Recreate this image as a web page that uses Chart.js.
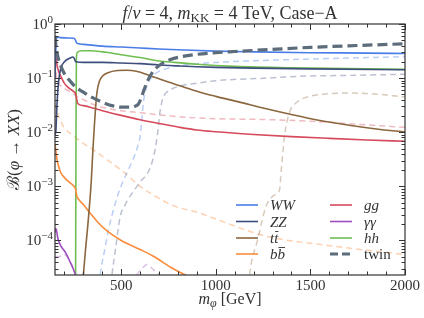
<!DOCTYPE html>
<html>
<head>
<meta charset="utf-8">
<script src="https://cdn.jsdelivr.net/npm/chart.js@4.4.1/dist/chart.umd.min.js"></script>
<style>
  html, body { margin: 0; padding: 0; background: #fff; }
</style>
</head>
<body>
<canvas id="brChart" width="424" height="318"></canvas>
<script>
// ---- data (m_phi in GeV, branching ratio) ----
const wwMass = [150, 154, 158, 165, 180, 220, 250, 256, 264, 275, 300, 400, 500, 600, 700, 800, 1000, 1200, 1500, 1800, 2000];
const wwBr   = [0.1, 0.3, 0.55, 0.57, 0.56, 0.55, 0.545, 0.52, 0.45, 0.43, 0.42, 0.39, 0.375, 0.36, 0.345, 0.335, 0.315, 0.305, 0.295, 0.29, 0.285];

const zzMass = [150, 155, 160, 168, 180, 200, 230, 245, 252, 260, 300, 400, 500, 600, 700, 800, 900, 1000, 1200, 1500, 2000];
const zzBr   = [0.009, 0.011, 0.03, 0.08, 0.15, 0.2, 0.235, 0.245, 0.23, 0.2, 0.195, 0.195, 0.19, 0.185, 0.175, 0.168, 0.162, 0.158, 0.153, 0.148, 0.143];

const ttMass = [292, 300, 310, 325, 342, 350, 358, 365, 372, 385, 400, 430, 480, 530, 580, 650, 730, 810, 916, 1000, 1126, 1250, 1405, 1550, 1705, 1850, 2000];
const ttBr   = [1e-5, 2.3e-5, 6e-5, 2.2e-4, 1.3e-3, 4.5e-3, 0.013, 0.03, 0.055, 0.088, 0.108, 0.126, 0.138, 0.14, 0.134, 0.112, 0.089, 0.072, 0.055, 0.046, 0.036, 0.028, 0.021, 0.0165, 0.0135, 0.0115, 0.0101];

const bbMass = [150, 155, 160, 170, 180, 200, 225, 250, 258, 266, 280, 300, 330, 380, 425, 500, 600, 670, 775, 850, 900];
const bbBr   = [6e-3, 4.5e-3, 3.2e-3, 2.3e-3, 1.8e-3, 1.45e-3, 1.2e-3, 1e-3, 9e-4, 6.5e-4, 5.5e-4, 4.6e-4, 3.4e-4, 2.1e-4, 1.5e-4, 1.0e-4, 6.8e-5, 5.1e-5, 3e-5, 2.2e-5, 1.8e-5];

const ggMass = [150, 155, 160, 170, 180, 195, 210, 230, 250, 258, 264, 270, 300, 350, 400, 500, 600, 700, 800, 900, 1000, 1200, 1400, 1600, 1800, 2000];
const ggBr   = [0.35, 0.25, 0.18, 0.13, 0.11, 0.085, 0.072, 0.063, 0.056, 0.052, 0.042, 0.034, 0.031, 0.028, 0.025, 0.0205, 0.017, 0.0145, 0.0125, 0.011, 0.0102, 0.0091, 0.0083, 0.0077, 0.0072, 0.0068];

const aaMass = [150, 153, 157, 165, 180, 205, 230, 258, 270];
const aaBr   = [1.4e-4, 1.65e-4, 1.6e-4, 1.1e-4, 8e-5, 6e-5, 4e-5, 2.3e-5, 1.5e-5];

const hhMass = [258, 261, 263, 268, 290, 330, 420, 500, 600, 690, 780, 900, 1100, 1400, 2000];
const hhBr   = [1e-6, 0.01, 0.22, 0.3, 0.32, 0.32, 0.3, 0.27, 0.24, 0.21, 0.195, 0.18, 0.165, 0.155, 0.145];

const twinMass = [150, 155, 165, 180, 200, 230, 260, 300, 340, 400, 450, 500, 540, 570, 590, 605, 620, 640, 660, 690, 720, 760, 820, 900, 1000, 1100, 1300, 1500, 1700, 2000];
const twinBr   = [0.6, 0.4, 0.25, 0.17, 0.12, 0.088, 0.068, 0.055, 0.045, 0.036, 0.031, 0.029, 0.029, 0.03, 0.033, 0.042, 0.06, 0.09, 0.12, 0.16, 0.19, 0.22, 0.25, 0.275, 0.295, 0.31, 0.34, 0.37, 0.395, 0.43];

// twin-sector channels (faint dashed)
const wwTwinMass = [380, 389, 410, 433, 460, 486, 530, 560, 583, 600, 609, 617, 635, 668, 740, 863, 1000, 1126, 1300, 1500, 1750, 2000];
const wwTwinBr   = [1e-5, 2.3e-5, 6e-5, 1.6e-4, 3.8e-4, 7.6e-4, 1.8e-3, 3e-3, 4.9e-3, 8.5e-3, 0.017, 0.035, 0.07, 0.11, 0.15, 0.18, 0.195, 0.205, 0.215, 0.225, 0.237, 0.25];

const zzTwinMass = [440, 451, 470, 495, 520, 547, 600, 653, 680, 693, 706, 720, 741, 780, 828, 916, 1005, 1266, 1445, 1750, 2000];
const zzTwinBr   = [1e-5, 2.3e-5, 7e-5, 2.8e-4, 4.5e-4, 6.6e-4, 1.2e-3, 2.2e-3, 5e-3, 0.01, 0.025, 0.042, 0.055, 0.066, 0.074, 0.082, 0.09, 0.1, 0.108, 0.113, 0.118];

const ttTwinMass = [1170, 1180, 1220, 1267, 1320, 1337, 1346, 1355, 1363, 1389, 1425, 1495, 1560, 1618, 1700, 1793, 1900, 1968, 2000];
const ttTwinBr   = [1e-5, 2.5e-5, 1e-4, 4.4e-4, 7.3e-4, 8.7e-4, 2e-3, 4.5e-3, 8.5e-3, 0.023, 0.035, 0.046, 0.05, 0.052, 0.053, 0.052, 0.049, 0.046, 0.045];

const bbTwinMass = [150, 160, 180, 200, 250, 300, 350, 390, 425, 500, 600, 700, 775, 916, 1090, 1266, 1616, 2000];
const bbTwinBr   = [0.035, 0.025, 0.016, 0.012, 0.0085, 0.0062, 0.0048, 0.0038, 0.0031, 0.002, 0.001, 6e-4, 4.4e-4, 3.2e-4, 1.9e-4, 1.2e-4, 7.9e-5, 5.5e-5];

const ggTwinMass = [150, 155, 160, 170, 185, 200, 230, 265, 300, 340, 400, 500, 600, 700, 850, 1000, 1250, 1500, 1750, 2000];
const ggTwinBr   = [0.2, 0.13, 0.1, 0.08, 0.07, 0.064, 0.056, 0.046, 0.04, 0.034, 0.029, 0.025, 0.023, 0.021, 0.0188, 0.0178, 0.0172, 0.016, 0.014, 0.0123];

const aaTwinMass = [150, 170, 195, 215, 235, 250, 262, 280, 300, 530, 560, 582, 610, 635, 670, 705, 730, 760];
const aaTwinBr   = [5e-5, 5e-5, 5.5e-5, 5e-5, 3.8e-5, 2.9e-5, 2.2e-5, 1.4e-5, 1e-5, 1e-5, 1.5e-5, 2.3e-5, 3e-5, 3.6e-5, 2.9e-5, 2.3e-5, 1.6e-5, 1e-5];

// axis ticks
const xMajorTicks = [500, 1000, 1500, 2000];
const xTickLabels = ['500', '1000', '1500', '2000'];
const yMajorExp = [0, -1, -2, -3, -4];
const yTickLabels = ['0', '\u22121', '\u22122', '\u22123', '\u22124'];

const xMin = 150, xMax = 2000;
const yMin = 2.3e-5, yMax = 1;

// ---- styles ----
const colors = {
    ww: 'rgb(74,125,232)',
    zz: 'rgb(62,78,125)',
    tt: 'rgb(140,102,62)',
    bb: 'rgb(250,140,60)',
    gg: 'rgb(214,74,92)',
    aa: 'rgb(158,78,190)',
    hh: 'rgb(112,190,80)',
    twin: 'rgb(92,108,122)'
};
const fade = {
    ww: 'rgba(74,125,232,0.38)',
    zz: 'rgba(62,78,125,0.35)',
    tt: 'rgba(140,102,62,0.35)',
    bb: 'rgba(250,140,60,0.4)',
    gg: 'rgba(214,74,92,0.38)',
    aa: 'rgba(158,78,190,0.35)'
};

const SERIF = "'Liberation Serif', 'DejaVu Serif', serif";

function pts(m, b) {
    return m.map((x, i) => ({ x: x, y: b[i] }));
}

function solid(label, key, m, b) {
    return {
        label: label, key: key, data: pts(m, b),
        borderColor: colors[key], borderWidth: 1.6,
        pointRadius: 0, fill: false, cubicInterpolationMode: 'monotone', order: 5
    };
}

function faint(key, m, b) {
    return {
        label: key + '_twin', key: key + '_twin', data: pts(m, b),
        borderColor: fade[key], borderWidth: 1.5, borderDash: [6, 4],
        pointRadius: 0, fill: false, cubicInterpolationMode: 'monotone', order: 10
    };
}

const datasets = [
    faint('ww', wwTwinMass, wwTwinBr),
    faint('zz', zzTwinMass, zzTwinBr),
    faint('tt', ttTwinMass, ttTwinBr),
    faint('bb', bbTwinMass, bbTwinBr),
    faint('gg', ggTwinMass, ggTwinBr),
    faint('aa', aaTwinMass, aaTwinBr),
    solid('WW', 'ww', wwMass, wwBr),
    solid('ZZ', 'zz', zzMass, zzBr),
    solid('tt', 'tt', ttMass, ttBr),
    solid('bb', 'bb', bbMass, bbBr),
    solid('gg', 'gg', ggMass, ggBr),
    solid('γγ', 'aa', aaMass, aaBr),
    solid('hh', 'hh', hhMass, hhBr),
    {
        label: 'twin', key: 'twin', data: pts(twinMass, twinBr),
        borderColor: colors.twin, borderWidth: 3.2, borderDash: [10, 5],
        pointRadius: 0, fill: false, cubicInterpolationMode: 'monotone', order: 1
    }
];

// legend: two columns
const legendCols = [
    [{ key: 'ww', text: 'WW', it: true }, { key: 'zz', text: 'ZZ', it: true }, { key: 'tt', text: 'tt', it: true, bar: true }, { key: 'bb', text: 'bb', it: true, bar: true }],
    [{ key: 'gg', text: 'gg', it: true }, { key: 'aa', text: 'γγ', it: true }, { key: 'hh', text: 'hh', it: true }, { key: 'twin', text: 'twin', it: false }]
];

// draw a sequence of styled text runs
function drawRuns(ctx, runs, x, y, align) {
    let total = 0;
    runs.forEach(r => {
        ctx.font = (r.it ? 'italic ' : '') + r.size + 'px ' + SERIF;
        r.w = ctx.measureText(r.text).width;
        total += r.w;
    });
    let cx = align === 'center' ? x - total / 2 : (align === 'right' ? x - total : x);
    runs.forEach(r => {
        ctx.font = (r.it ? 'italic ' : '') + r.size + 'px ' + SERIF;
        ctx.fillText(r.text, cx, y + (r.dy || 0));
        cx += r.w;
    });
    return total;
}

const framePlugin = {
    id: 'frame',
    afterDraw(chart) {
        const ctx = chart.ctx;
        const a = chart.chartArea;
        const xs = chart.scales.x, ys = chart.scales.y;
        ctx.save();
        ctx.textBaseline = 'alphabetic';
        ctx.fillStyle = '#333';

        // frame
        ctx.strokeStyle = '#333';
        ctx.lineWidth = 1.2;
        ctx.strokeRect(a.left, a.top, a.right - a.left, a.bottom - a.top);

        // x ticks (inward, bottom and top)
        ctx.lineWidth = 1;
        for (let v = 200; v <= 2000; v += 100) {
            const px = Math.round(xs.getPixelForValue(v)) + 0.5;
            const len = xMajorTicks.includes(v) ? 6 : 3.5;
            ctx.beginPath();
            ctx.moveTo(px, a.bottom); ctx.lineTo(px, a.bottom - len);
            ctx.moveTo(px, a.top); ctx.lineTo(px, a.top + len);
            ctx.stroke();
        }
        // y ticks (inward, left and right)
        for (let e = -5; e <= 0; e++) {
            for (let k = 1; k <= 9; k++) {
                const v = k * Math.pow(10, e);
                if (v < yMin || v > yMax) continue;
                const py = Math.round(ys.getPixelForValue(v)) + 0.5;
                const len = k === 1 ? 6 : 3.5;
                ctx.beginPath();
                ctx.moveTo(a.left, py); ctx.lineTo(a.left + len, py);
                ctx.moveTo(a.right, py); ctx.lineTo(a.right - len, py);
                ctx.stroke();
            }
        }

        // x tick labels
        ctx.textAlign = 'left';
        xMajorTicks.forEach((v, i) => {
            drawRuns(ctx, [{ text: xTickLabels[i], size: 15 }], xs.getPixelForValue(v), a.bottom + 15, 'center');
        });
        // y tick labels 10^n
        yMajorExp.forEach((e, i) => {
            const py = ys.getPixelForValue(Math.pow(10, e));
            drawRuns(ctx, [{ text: '10', size: 15 }, { text: yTickLabels[i], size: 11, dy: -6 }], a.left - 2, py + 5, 'right');
        });

        // axis titles
        drawRuns(ctx, [{ text: 'm', size: 16, it: true }, { text: 'φ', size: 12, it: true, dy: 3 }, { text: ' [GeV]', size: 16 }],
            (a.left + a.right) / 2, 304, 'center');
        ctx.save();
        ctx.translate(19, (a.top + a.bottom) / 2);
        ctx.rotate(-Math.PI / 2);
        drawRuns(ctx, [{ text: 'ℬ', size: 17 }, { text: '(', size: 17 }, { text: 'φ', size: 17, it: true },
            { text: ' → ', size: 17 }, { text: 'XX', size: 17, it: true }, { text: ')', size: 17 }], 0, 0, 'center');
        ctx.restore();

        // title
        drawRuns(ctx, [
            { text: 'f', size: 18, it: true }, { text: '/', size: 18 }, { text: 'v', size: 18, it: true },
            { text: ' = 4, ', size: 18 }, { text: 'm', size: 18, it: true }, { text: 'KK', size: 13, dy: 3 },
            { text: ' = 4 TeV, Case\u2212A', size: 18 }
        ], (a.left + a.right) / 2, 19, 'center');

        // legend
        const rowY = [205, 221.5, 238, 254];
        const colX = [236, 330];
        legendCols.forEach((col, c) => {
            col.forEach((it, r) => {
                const y = rowY[r];
                ctx.beginPath();
                ctx.strokeStyle = colors[it.key];
                if (it.key === 'twin') {
                    ctx.lineWidth = 3.2; ctx.setLineDash([8, 4]);
                } else {
                    ctx.lineWidth = 1.6; ctx.setLineDash([]);
                }
                ctx.moveTo(colX[c], y); ctx.lineTo(colX[c] + 22, y);
                ctx.stroke();
                ctx.setLineDash([]);
                const tx = colX[c] + 34;
                const w = drawRuns(ctx, [{ text: it.text, size: 15, it: it.it }], tx, y + 5, 'left');
                if (it.bar) {
                    // overbar on second letter (t-bar, b-bar)
                    ctx.fillRect(tx + w / 2 + 1, y - 7, w / 2 - 1, 0.9);
                }
            });
        });
        ctx.restore();
    }
};

new Chart(document.getElementById('brChart').getContext('2d'), {
    type: 'line',
    data: { datasets: datasets },
    options: {
        responsive: false,
        animation: false,
        devicePixelRatio: 1,
        layout: { padding: { left: 55, right: 19, top: 24, bottom: 43 } },
        plugins: {
            legend: { display: false },
            tooltip: { enabled: false },
            title: { display: false }
        },
        scales: {
            x: { type: 'linear', min: xMin, max: xMax, display: false },
            y: { type: 'logarithmic', min: yMin, max: yMax, display: false }
        }
    },
    plugins: [framePlugin]
});
</script>
</body>
</html>
